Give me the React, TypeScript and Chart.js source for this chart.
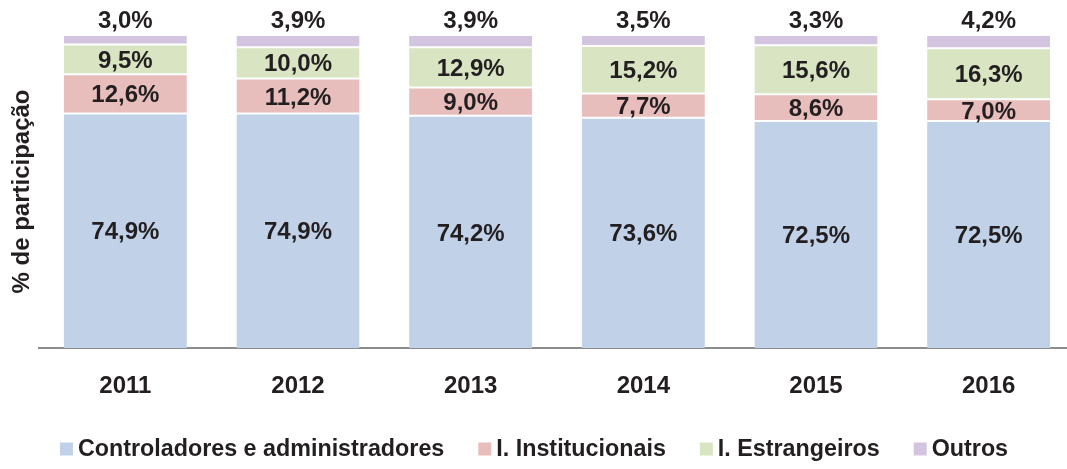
import React, { useEffect, useRef } from "react";
import { Chart, registerables } from "chart.js";

Chart.register(...registerables);

const years = ["2011", "2012", "2013", "2014", "2015", "2016"];
const controladores = [74.9, 74.9, 74.2, 73.6, 72.5, 72.5];
const institucionais = [12.6, 11.2, 9.0, 7.7, 8.6, 7.0];
const estrangeiros = [9.5, 10.0, 12.9, 15.2, 15.6, 16.3];
const outros = [3.0, 3.9, 3.9, 3.5, 3.3, 4.2];

const seriesNames = ["Controladores e administradores", "I. Institucionais", "I. Estrangeiros", "Outros"];
const seriesColors = ["#C1D1E8", "#E8BEBD", "#D9E5C2", "#D3C5E0"];

const FONT = "'Liberation Sans', Arial, sans-serif";
const TEXT = "#231F20";

const fmt = (v: number) => v.toFixed(1).replace(".", ",") + "%";

const labelPlugin = {
  id: "segLabels",
  afterDatasetsDraw(chart: any) {
    const ctx = chart.ctx;
    ctx.save();
    ctx.font = `bold 24px ${FONT}`;
    ctx.fillStyle = TEXT;
    ctx.textAlign = "center";
    ctx.textBaseline = "middle";
    const n = chart.data.datasets.length;
    chart.data.datasets.forEach((ds: any, di: number) => {
      const meta = chart.getDatasetMeta(di);
      meta.data.forEach((el: any, i: number) => {
        const v = ds.data[i];
        let y;
        if (di === n - 1) y = el.y - 14;
        else y = (el.y + el.base) / 2 + 2;
        ctx.fillText(fmt(v), el.x, y);
      });
    });
    ctx.restore();
  },
};

const legendPlugin = {
  id: "bottomLegend",
  afterDraw(chart: any) {
    const ctx = chart.ctx;
    ctx.save();
    ctx.font = `bold 23.3px ${FONT}`;
    ctx.textBaseline = "middle";
    ctx.textAlign = "left";
    const box = 13;
    const textGap = 5;
    const itemGap = 34;
    const items = chart.data.datasets.map((ds: any) => ({
      label: ds.label as string,
      color: ds.backgroundColor as string,
      w: ctx.measureText(ds.label).width,
    }));
    const total =
      items.reduce((s: number, it: any) => s + box + textGap + it.w, 0) + itemGap * (items.length - 1);
    let x = 534 - total / 2;
    const y = 450;
    items.forEach((it: any) => {
      ctx.fillStyle = it.color;
      ctx.fillRect(x, y - box / 2 - 1, box, box);
      ctx.fillStyle = TEXT;
      ctx.fillText(it.label, x + box + textGap, y);
      x += box + textGap + it.w + itemGap;
    });
    ctx.restore();
  },
};

export default function App() {
  const ref = useRef<HTMLCanvasElement | null>(null);
  useEffect(() => {
    if (!ref.current) return;
    const data = [controladores, institucionais, estrangeiros, outros];
    const chart = new Chart(ref.current, {
      type: "bar",
      data: {
        labels: years,
        datasets: data.map((d, i) => ({
          label: seriesNames[i],
          data: d,
          backgroundColor: seriesColors[i],
          borderColor: "#FFFFFF",
          borderWidth: { top: 1, bottom: i === 0 ? 0 : 1, left: 0, right: 0 },
          borderSkipped: false,
          categoryPercentage: 1,
          barPercentage: 0.713,
        })),
      },
      options: {
        animation: false,
        responsive: true,
        maintainAspectRatio: false,
        layout: { padding: { top: 35, right: 2, left: 0, bottom: 61 } },
        plugins: {
          tooltip: { enabled: false },
          legend: { display: false },
        },
        scales: {
          x: {
            stacked: true,
            grid: { display: false, drawTicks: false },
            border: { display: true, color: "#8C8C8C", width: 2 },
            ticks: {
              font: { family: FONT, size: 24, weight: "bold" },
              color: TEXT,
              padding: 24,
            },
            afterFit: (s: any) => {
              s.height = 60;
            },
          },
          y: {
            stacked: true,
            min: 0,
            max: 100,
            grid: { display: false, drawTicks: false },
            border: { display: false },
            ticks: { display: false },
            title: {
              display: true,
              text: "% de participação",
              font: { family: FONT, size: 24, weight: "bold" },
              color: TEXT,
              padding: { top: 8, bottom: 0 },
            },
            afterFit: (s: any) => {
              s.width = 39;
            },
          },
        },
      },
      plugins: [labelPlugin, legendPlugin],
    } as any);
    return () => chart.destroy();
  }, []);
  return (
    <div style={{ position: "fixed", left: 0, top: 0, width: 1067, height: 469, overflow: "hidden", background: "#fff" }}>
      <div style={{ position: "relative", width: 1077, height: 469 }}>
        <canvas ref={ref} />
      </div>
    </div>
  );
}
